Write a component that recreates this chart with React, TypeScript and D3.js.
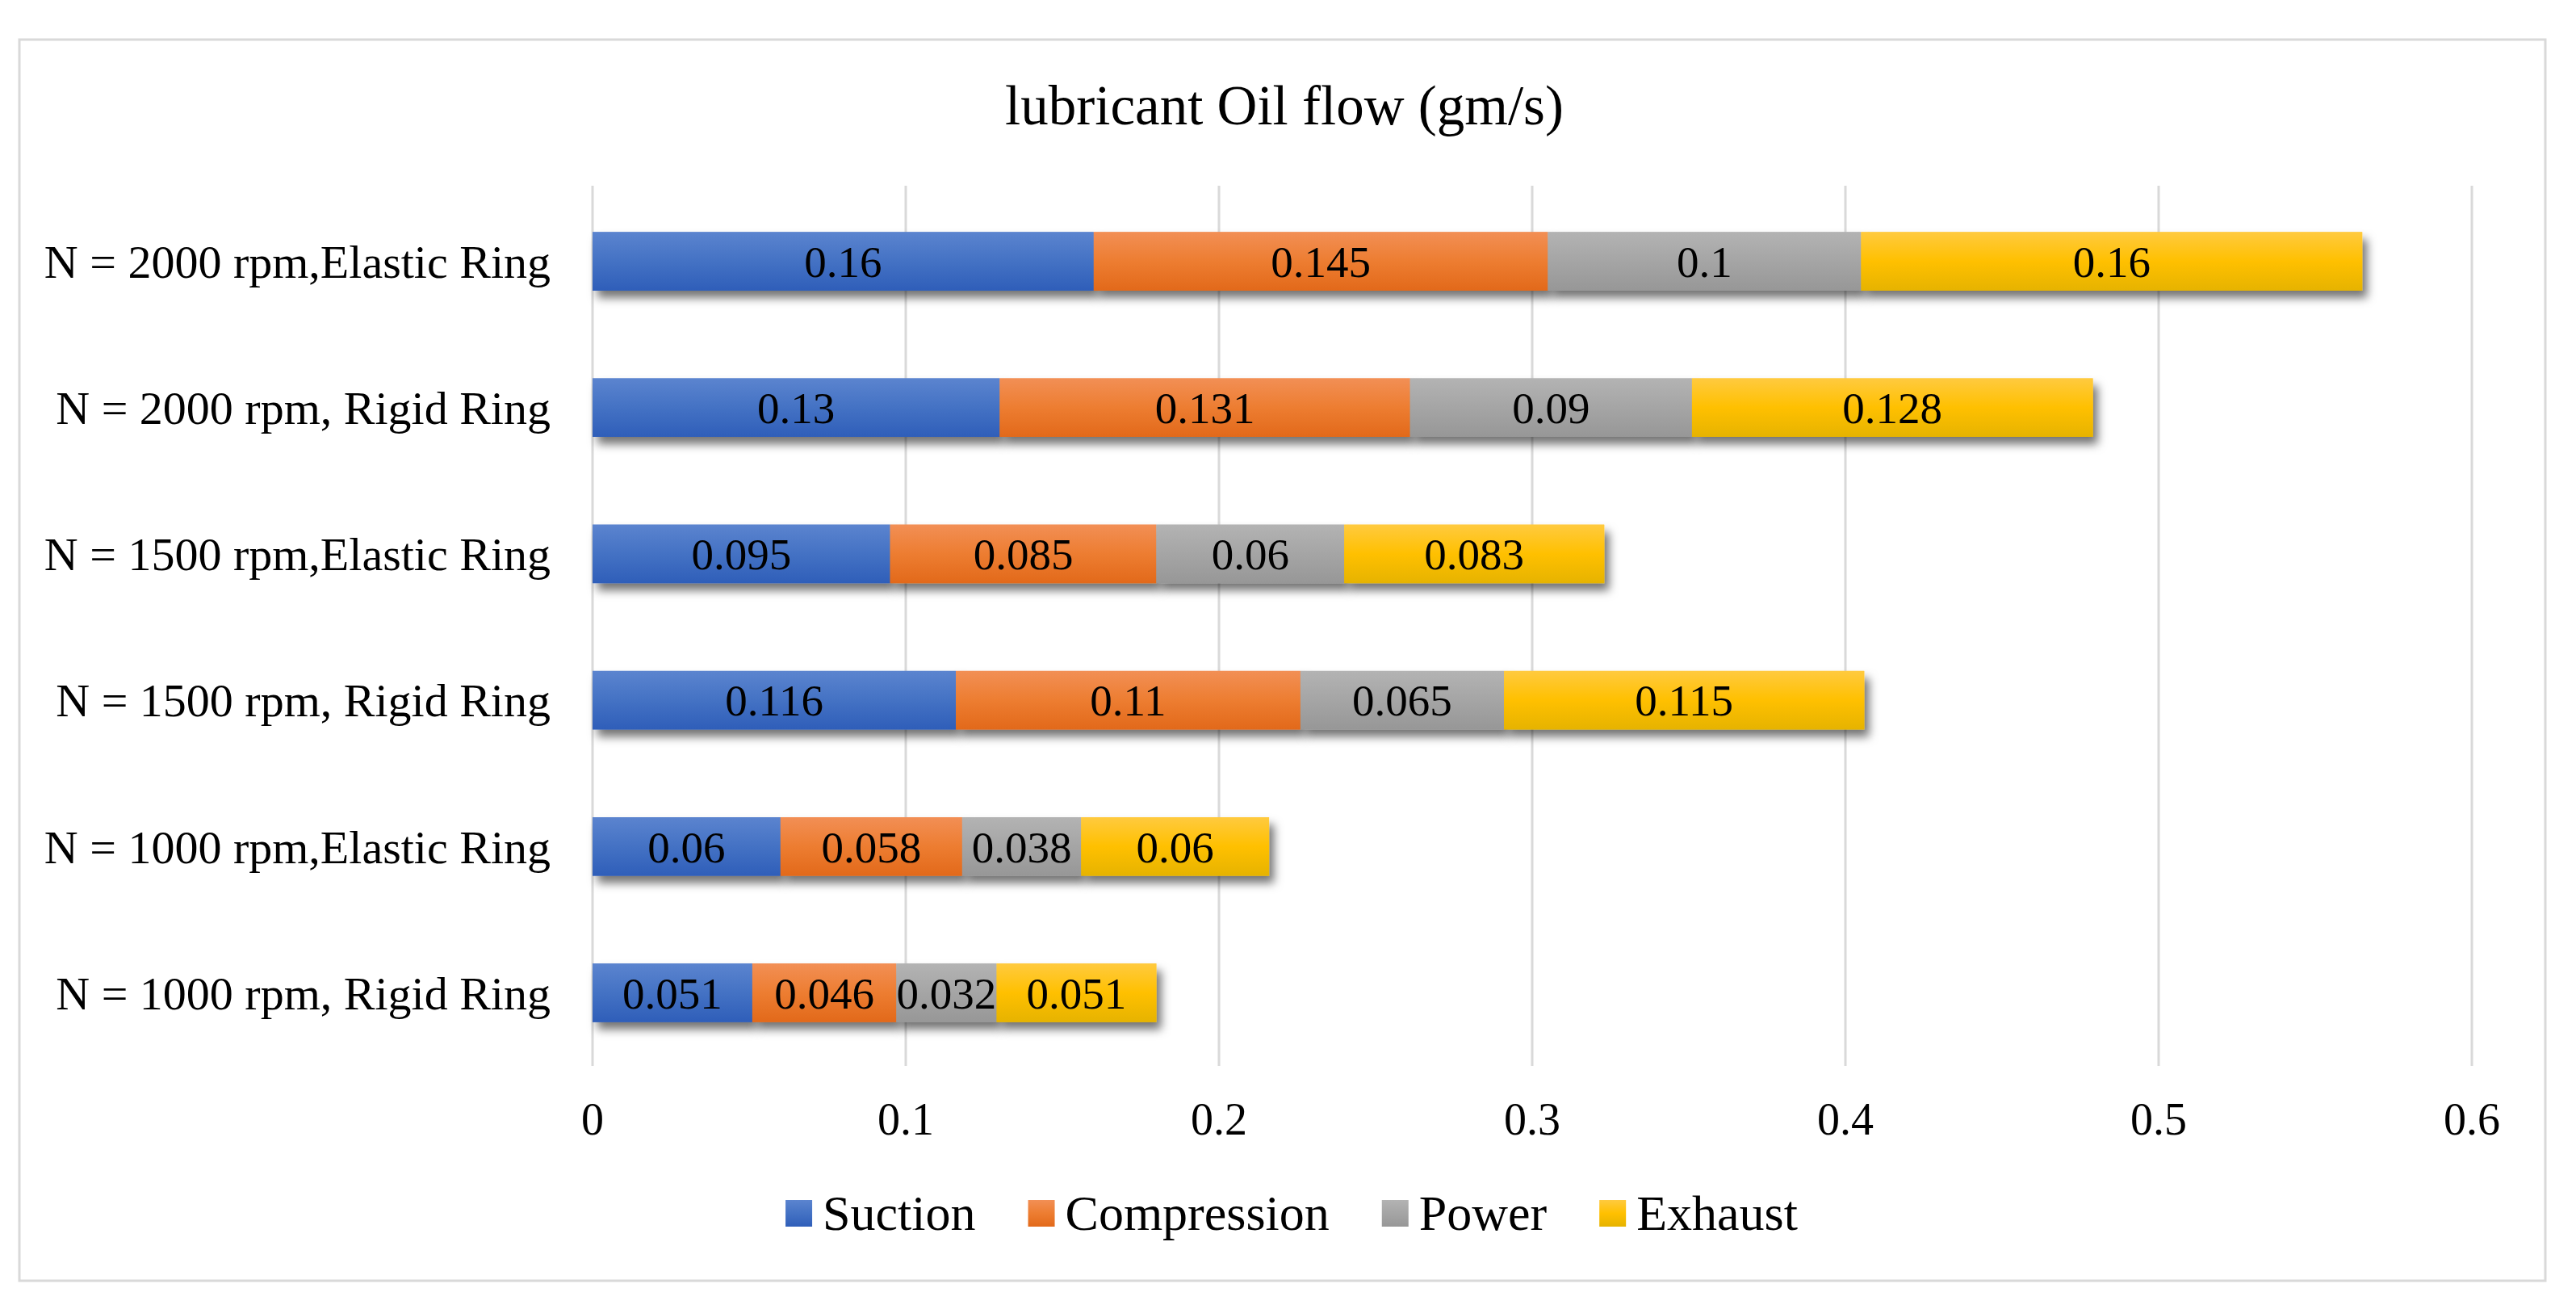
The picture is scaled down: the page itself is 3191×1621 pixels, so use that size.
import React, { useEffect, useRef } from 'react';
import * as d3 from 'd3';

// categories listed top to bottom as shown in the chart
const categories = [
  'N = 2000 rpm,Elastic Ring',
  'N = 2000 rpm, Rigid Ring',
  'N = 1500 rpm,Elastic Ring',
  'N = 1500 rpm, Rigid Ring',
  'N = 1000 rpm,Elastic Ring',
  'N = 1000 rpm, Rigid Ring',
];

const seriesNames = ['Suction', 'Compression', 'Power', 'Exhaust'];

const suction = [0.16, 0.13, 0.095, 0.116, 0.06, 0.051];
const compression = [0.145, 0.131, 0.085, 0.11, 0.058, 0.046];
const power = [0.1, 0.09, 0.06, 0.065, 0.038, 0.032];
const exhaust = [0.16, 0.128, 0.083, 0.115, 0.06, 0.051];

const xTicks = [0, 0.1, 0.2, 0.3, 0.4, 0.5, 0.6];

const colors = [
  ['#5b84cf', '#4472c4', '#2f5eb9'],
  ['#f28f55', '#ed7d31', '#e2691a'],
  ['#b3b3b3', '#a5a5a5', '#979797'],
  ['#ffca3f', '#ffc000', '#e6b300'],
];

const W = 3191;
const H = 1621;
const font = '"Liberation Serif", "Times New Roman", serif';

const App = () => {
  const svgRef = useRef<SVGSVGElement>(null);

  useEffect(() => {
    document.body.style.margin = '0';
    const svg = d3.select(svgRef.current);
    svg.selectAll('*').remove();

    const rows = categories.map((c, i) => ({
      cat: c,
      Suction: suction[i],
      Compression: compression[i],
      Power: power[i],
      Exhaust: exhaust[i],
    }));
    const stacked = d3.stack<any>().keys(seriesNames)(rows);

    const x = d3.scaleLinear().domain([0, 0.6]).range([734, 3062]);
    const y = d3
      .scaleBand()
      .domain(categories)
      .range([233, 1320])
      .paddingInner(0.6)
      .paddingOuter(0.3);

    const defs = svg.append('defs');
    colors.forEach((c, i) => {
      const g = defs
        .append('linearGradient')
        .attr('id', `grad${i}`)
        .attr('x1', 0)
        .attr('y1', 0)
        .attr('x2', 0)
        .attr('y2', 1);
      g.append('stop').attr('offset', '0%').attr('stop-color', c[0]);
      g.append('stop').attr('offset', '50%').attr('stop-color', c[1]);
      g.append('stop').attr('offset', '100%').attr('stop-color', c[2]);
    });
    const f = defs
      .append('filter')
      .attr('id', 'shadow')
      .attr('x', '-10%')
      .attr('y', '-30%')
      .attr('width', '130%')
      .attr('height', '180%');
    f.append('feDropShadow')
      .attr('dx', 6)
      .attr('dy', 9)
      .attr('stdDeviation', 6)
      .attr('flood-color', '#000')
      .attr('flood-opacity', 0.55);

    svg.append('rect').attr('width', W).attr('height', H).attr('fill', '#fff');

    // chart border
    svg
      .append('rect')
      .attr('x', 24)
      .attr('y', 49)
      .attr('width', 3129)
      .attr('height', 1537)
      .attr('fill', 'none')
      .attr('stroke', '#d9d9d9')
      .attr('stroke-width', 3);

    svg
      .append('text')
      .attr('x', 1591)
      .attr('y', 154)
      .attr('text-anchor', 'middle')
      .attr('font-family', font)
      .attr('font-size', 69)
      .attr('fill', '#000')
      .text('lubricant Oil flow (gm/s)');

    // gridlines
    svg
      .append('g')
      .selectAll('line')
      .data(xTicks)
      .join('line')
      .attr('x1', (d) => x(d))
      .attr('x2', (d) => x(d))
      .attr('y1', 230)
      .attr('y2', 1320)
      .attr('stroke', '#d9d9d9')
      .attr('stroke-width', 3);

    // tick labels
    svg
      .append('g')
      .selectAll('text')
      .data(xTicks)
      .join('text')
      .attr('x', (d) => x(d))
      .attr('y', 1405)
      .attr('text-anchor', 'middle')
      .attr('font-family', font)
      .attr('font-size', 56)
      .text((d) => String(d));

    // category labels
    svg
      .append('g')
      .selectAll('text')
      .data(categories)
      .join('text')
      .attr('x', 682)
      .attr('y', (d) => (y(d) as number) + y.bandwidth() / 2)
      .attr('dy', '0.35em')
      .attr('text-anchor', 'end')
      .attr('font-family', font)
      .attr('font-size', 58)
      .text((d) => d);

    // bars with shadow
    stacked.forEach((layer, si) => {
      svg
        .append('g')
        .attr('filter', 'url(#shadow)')
        .selectAll('rect')
        .data(layer)
        .join('rect')
        .attr('x', (d) => x(d[0]))
        .attr('y', (d) => y(d.data.cat) as number)
        .attr('width', (d) => x(d[1]) - x(d[0]))
        .attr('height', y.bandwidth())
        .attr('fill', `url(#grad${si})`);
    });
    // redraw segments on top to cover neighbour shadows
    stacked.forEach((layer, si) => {
      svg
        .append('g')
        .selectAll('rect')
        .data(layer)
        .join('rect')
        .attr('x', (d) => x(d[0]))
        .attr('y', (d) => y(d.data.cat) as number)
        .attr('width', (d) => x(d[1]) - x(d[0]))
        .attr('height', y.bandwidth())
        .attr('fill', `url(#grad${si})`);
    });

    // value labels
    stacked.forEach((layer) => {
      svg
        .append('g')
        .selectAll('text')
        .data(layer)
        .join('text')
        .attr('x', (d) => (x(d[0]) + x(d[1])) / 2)
        .attr('y', (d) => (y(d.data.cat) as number) + y.bandwidth() / 2)
        .attr('dy', '0.35em')
        .attr('text-anchor', 'middle')
        .attr('font-family', font)
        .attr('font-size', 55)
        .text((d) => String(+(d[1] - d[0]).toFixed(3)));
    });

    // legend
    const lg = svg.append('g');
    let cx = 0;
    seriesNames.forEach((name, i) => {
      const item = lg.append('g').attr('transform', `translate(${cx},0)`);
      item
        .append('rect')
        .attr('x', 0)
        .attr('y', -17)
        .attr('width', 33)
        .attr('height', 33)
        .attr('fill', `url(#grad${i})`);
      const t = item
        .append('text')
        .attr('x', 46)
        .attr('y', 20)
        .attr('font-family', font)
        .attr('font-size', 62)
        .text(name);
      const tw = (t.node() as SVGTextElement).getComputedTextLength();
      cx += 46 + tw + 65;
    });
    const total = cx - 65;
    lg.attr('transform', `translate(${1600 - total / 2},1503)`);
  }, []);

  return <svg ref={svgRef} width={W} height={H} style={{ display: 'block' }} />;
};

export default App;
